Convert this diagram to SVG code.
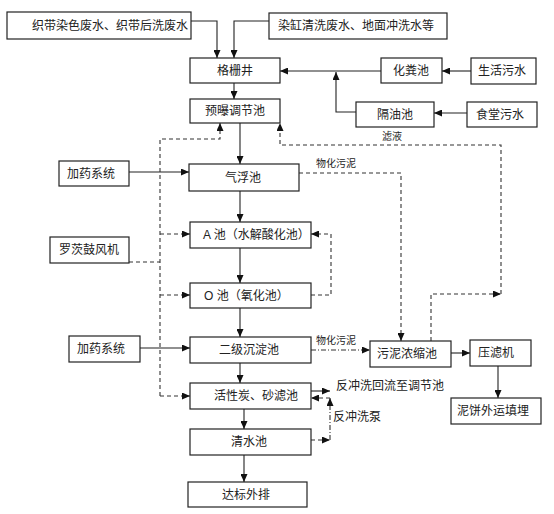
<svg xmlns="http://www.w3.org/2000/svg" width="554" height="514" viewBox="0 0 554 514">
<style>
.box{fill:#fff;stroke:#222;stroke-width:1.2}
.t{font-family:"Liberation Sans","Noto Sans CJK SC",sans-serif;font-size:12px;fill:#222}
.c{text-anchor:middle}
.s{font-size:10px}
.ln{fill:none;stroke:#222;stroke-width:1.1}
.ds{fill:none;stroke:#333;stroke-width:1.1;stroke-dasharray:4,3}
.dd{fill:none;stroke:#333;stroke-width:1.1;stroke-dasharray:5,2,1,2}
</style>
<defs>
<marker id="a" markerUnits="userSpaceOnUse" markerWidth="8" markerHeight="7" refX="8" refY="3.5" orient="auto">
<path d="M0,0 L8,3.5 L0,7 z" fill="#111"/>
</marker>
</defs>
<rect width="554" height="514" fill="#fff"/>
<g id="connectors">
<path class="ln" d="M191,21 H217 V58" marker-end="url(#a)"/>
<path class="ln" d="M269,21 H234 V58" marker-end="url(#a)"/>
<path class="ln" d="M234,83 V99" marker-end="url(#a)"/>
<path class="ln" d="M471,71 H442" marker-end="url(#a)"/>
<path class="ln" d="M381,71 H280" marker-end="url(#a)"/>
<path class="ln" d="M356,112 H336 V72" marker-end="url(#a)"/>
<path class="ln" d="M467,113 H434" marker-end="url(#a)"/>
<path class="ln" d="M240,123 V164" marker-end="url(#a)"/>
<path class="ln" d="M129,172 H189" marker-end="url(#a)"/>
<path class="ln" d="M240,191 V222" marker-end="url(#a)"/>
<path class="ln" d="M240,248 V283" marker-end="url(#a)"/>
<path class="ln" d="M240,308 V337" marker-end="url(#a)"/>
<path class="ln" d="M140,348 H190" marker-end="url(#a)"/>
<path class="ln" d="M240,363 V383" marker-end="url(#a)"/>
<path class="ln" d="M244,409 V429" marker-end="url(#a)"/>
<path class="ln" d="M244,455 V482" marker-end="url(#a)"/>
<path class="ln" d="M451,353 H470" marker-end="url(#a)"/>
<path class="ln" d="M498,366 V398" marker-end="url(#a)"/>
<path class="ln" d="M311,391 H330" marker-end="url(#a)"/>
<path class="ds" d="M160,396 V139 H220 V123" marker-end="url(#a)"/>
<path class="ds" d="M160,234 H190" marker-end="url(#a)"/>
<path class="ds" d="M160,295 H190" marker-end="url(#a)"/>
<path class="ds" d="M160,396 H190" marker-end="url(#a)"/>
<path class="ds" d="M129,262 H160"/>
<path class="ds" d="M311,295 H331 V234 H311" marker-end="url(#a)"/>
<path class="ds" d="M299,173 H401 V341" marker-end="url(#a)"/>
<path class="ds" d="M431,341 V294 H501" marker-end="url(#a)"/>
<path class="ds" d="M501,294 V145 H280 V123" marker-end="url(#a)"/>
<path class="dd" d="M311,350 H370" marker-end="url(#a)"/>
<path class="ds" d="M311,440 H330" marker-end="url(#a)"/>
<path class="dd" d="M330,440 V398" marker-end="url(#a)"/>
<path class="ds" d="M330,398 H311" marker-end="url(#a)"/>
</g>
<g id="n-zhidai"><rect class="box" x="7" y="12" width="184" height="27"/><text class="t" x="32" y="30">织带染色废水、织带后洗废水</text></g>
<g id="n-rangang"><rect class="box" x="269" y="13" width="178" height="26"/><text class="t" x="278" y="30">染缸清洗废水、地面冲洗水等</text></g>
<g id="n-gezhajing"><rect class="box" x="190" y="58" width="90" height="25"/><text class="t c" x="235" y="75">格栅井</text></g>
<g id="n-yupu"><rect class="box" x="190" y="99" width="90" height="24"/><text class="t c" x="235" y="115">预曝调节池</text></g>
<g id="n-huafen"><rect class="box" x="381" y="58" width="61" height="25"/><text class="t c" x="411" y="75">化粪池</text></g>
<g id="n-shenghuo"><rect class="box" x="471" y="58" width="65" height="26"/><text class="t c" x="502" y="75">生活污水</text></g>
<g id="n-geyou"><rect class="box" x="356" y="102" width="78" height="25"/><text class="t c" x="395" y="119">隔油池</text></g>
<g id="n-shitang"><rect class="box" x="467" y="102" width="70" height="25"/><text class="t c" x="500" y="119">食堂污水</text></g>
<g id="n-jiayao1"><rect class="box" x="59" y="161" width="70" height="25"/><text class="t c" x="91" y="178">加药系统</text></g>
<g id="n-qifu"><rect class="box" x="189" y="164" width="110" height="27"/><text class="t c" x="243" y="182">气浮池</text></g>
<g id="n-a"><rect class="box" x="190" y="222" width="121" height="26"/><text class="t" x="203" y="239">A 池（水解酸化池）</text></g>
<g id="n-luoci"><rect class="box" x="50" y="237" width="79" height="26"/><text class="t c" x="89" y="254">罗茨鼓风机</text></g>
<g id="n-o"><rect class="box" x="190" y="283" width="121" height="25"/><text class="t" x="204" y="300">O 池（氧化池）</text></g>
<g id="n-jiayao2"><rect class="box" x="69" y="336" width="71" height="26"/><text class="t c" x="101" y="353">加药系统</text></g>
<g id="n-erji"><rect class="box" x="190" y="337" width="121" height="26"/><text class="t c" x="249" y="354">二级沉淀池</text></g>
<g id="n-huoxing"><rect class="box" x="190" y="383" width="121" height="26"/><text class="t c" x="256" y="400">活性炭、砂滤池</text></g>
<g id="n-qingshui"><rect class="box" x="190" y="429" width="121" height="26"/><text class="t c" x="249" y="446">清水池</text></g>
<g id="n-dabiao"><rect class="box" x="188" y="482" width="119" height="25"/><text class="t c" x="246" y="499">达标外排</text></g>
<g id="n-wuni"><rect class="box" x="370" y="341" width="81" height="26"/><text class="t c" x="407" y="358">污泥浓缩池</text></g>
<g id="n-yalv"><rect class="box" x="470" y="340" width="61" height="26"/><text class="t c" x="496" y="357">压滤机</text></g>
<g id="n-nibing"><rect class="box" x="451" y="398" width="90" height="26"/><text class="t c" x="493" y="415">泥饼外运填埋</text></g>
<g id="labels">
<text class="t s c" x="392" y="140">滤液</text>
<text class="t s c" x="336" y="167">物化污泥</text>
<text class="t s c" x="336" y="344">物化污泥</text>
<text class="t" x="336" y="390">反冲洗回流至调节池</text>
<text class="t" x="333" y="421">反冲洗泵</text>
</g>
</svg>
